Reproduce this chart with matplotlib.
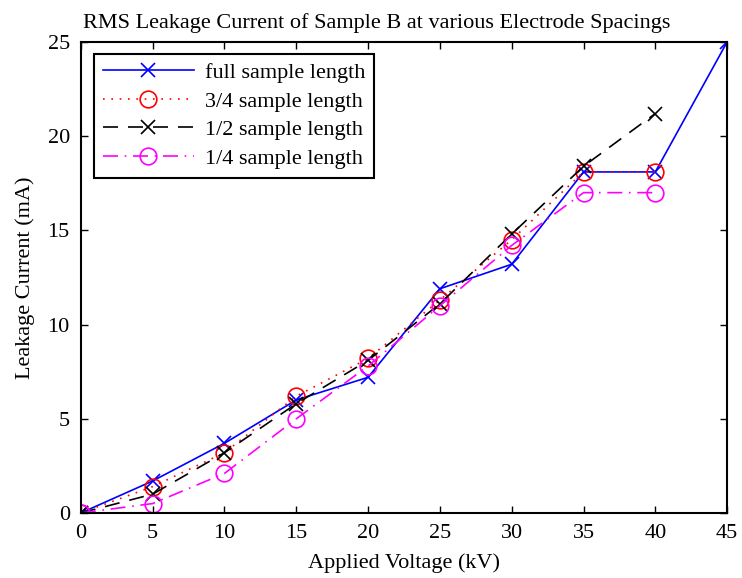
import matplotlib
matplotlib.use("Agg")
import matplotlib.pyplot as plt

plt.rcParams["font.family"] = "Liberation Serif"
plt.rcParams["font.size"] = 16

voltage = [0, 5, 10, 15, 20, 25, 30, 35, 40, 45]
full_len = [0, 1.7, 3.7, 6.0, 7.2, 11.9, 13.2, 18.1, 18.1, 25.0]
volt_34 = [0, 5, 10, 15, 20, 25, 30, 35, 40]
three_quarter = [0, 1.4, 3.2, 6.2, 8.2, 11.3, 14.5, 18.1, 18.1]
volt_12 = [0, 5, 10, 15, 20, 25, 30, 35, 40]
half_len = [0, 1.0, 3.2, 5.8, 8.1, 11.1, 14.8, 18.4, 21.2]
volt_14 = [0, 5, 10, 15, 20, 25, 30, 35, 40]
quarter_len = [0, 0.5, 2.1, 5.0, 7.8, 11.0, 14.2, 17.0, 17.0]

fig = plt.figure(figsize=(7.42, 5.78), dpi=100)
ax = fig.add_axes([0.109, 0.1125, 0.871, 0.815])

ax.plot(voltage, full_len, color='#0000ff', lw=1.2, marker='x', ms=10, mew=1.2,
        label='full sample length')
ax.plot(volt_34, three_quarter, color='#ff0000', lw=1.2, ls=(0, (1, 4)), marker='o', ms=12,
        mfc='none', mew=1.2, label='3/4 sample length')
ax.plot(volt_12, half_len, color='black', lw=1.2, ls=(0, (9, 6)), marker='x', ms=10, mew=1.2,
        label='1/2 sample length')
ax.plot(volt_14, quarter_len, color='#ff00ff', lw=1.2, ls=(0, (9, 4, 1, 4)), marker='o', ms=12,
        mfc='none', mew=1.2, label='1/4 sample length')

ax.set_xlim(0, 45)
ax.set_ylim(0, 25)
ax.set_xticks(range(0, 46, 5))
ax.set_yticks(range(0, 26, 5))
ax.tick_params(direction='in', top=True, right=True, length=5, width=1, pad=8)
for s in ax.spines.values():
    s.set_linewidth(1.5)

ax.set_title('RMS Leakage Current of Sample B at various Electrode Spacings',
             fontsize=16, pad=10, x=0.457)
ax.set_xlabel('Applied Voltage (kV)', labelpad=7)
ax.set_ylabel('Leakage Current (mA)', labelpad=9)

leg = ax.legend(loc='upper left', bbox_to_anchor=(0.02, 0.975), borderaxespad=0,
                fancybox=False, edgecolor='black', framealpha=1, handlelength=4.1,
                borderpad=0.4, labelspacing=0.36, handletextpad=0.5)
leg.get_frame().set_linewidth(1.5)

plt.savefig('out.png', dpi=100)
